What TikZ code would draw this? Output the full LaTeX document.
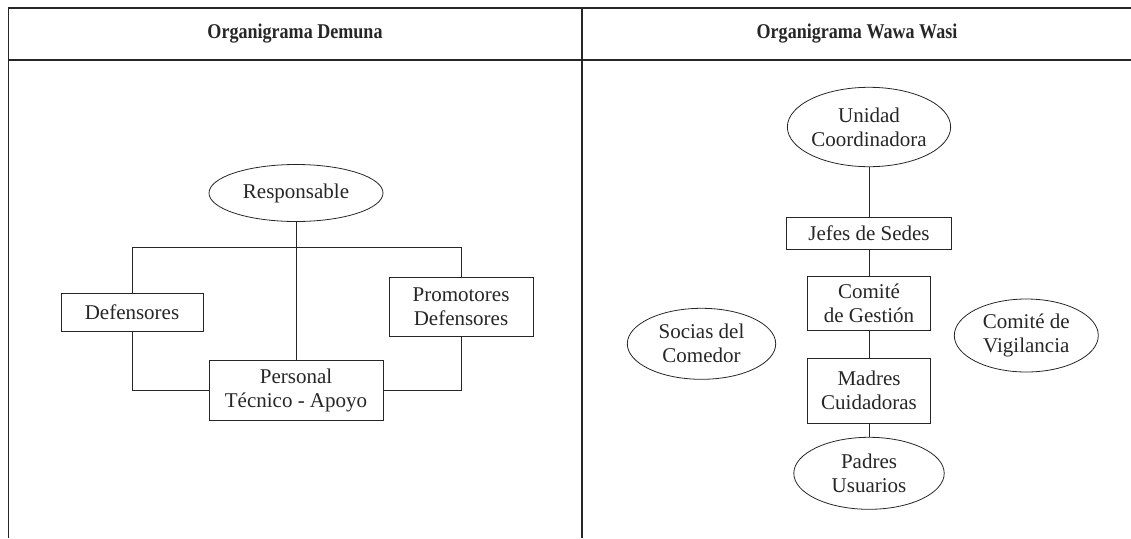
\documentclass[tikz,border=0pt]{standalone}
\usepackage{fontspec}
\setmainfont{Liberation Serif}
\usetikzlibrary{shapes.geometric}
\newcommand{\headtext}[1]{\scalebox{0.86}[1]{#1}}
\begin{document}
\begin{tikzpicture}[x=1pt,y=-1pt,
  frameline/.style={line width=1.3pt,draw=black!85},
  link/.style={line width=0.8pt,draw=black!85},
  txt/.style={font=\fontsize{21}{24}\selectfont,align=center,inner sep=0pt,text=black!85},
  boxnode/.style={txt,draw=black!85,line width=0.8pt,rectangle},
  ovalnode/.style={txt,draw=black!85,line width=0.8pt,ellipse},
  headtxt/.style={font=\fontsize{21}{24}\selectfont\bfseries,inner sep=0pt,text=black!85}
]
\useasboundingbox (0,0) rectangle (1131,538);
% frame
\draw[frameline] (8.5,538) -- (8.5,8) -- (1131,8);
\draw[frameline] (8.5,60) -- (1131,60);
\draw[frameline] (582,8) -- (582,538);
\node[headtxt] (h1) at (295,34) {\headtext{Organigrama Demuna}};
\node[headtxt] (h2) at (857,34) {\headtext{Organigrama Wawa Wasi}};
% left chart
\node[ovalnode,minimum width=174pt,minimum height=57pt] (resp) at (296,193) {Responsable};
\node[boxnode,minimum width=142pt,minimum height=37.7pt] (def) at (132,312.2) {Defensores};
\node[boxnode,minimum width=144pt,minimum height=58.7pt] (prom) at (461,306.7) {Promotores\\Defensores};
\node[boxnode,minimum width=174pt,minimum height=60pt] (pers) at (296,390.7) {Personal\\T\'ecnico - Apoyo};
\coordinate (bar) at (296,247.7);
\draw[link] (resp.south) -- (pers.north);
\draw[link] (def.north) -- (def.north |- bar) -- (prom.north |- bar) -- (prom.north);
\draw[link] (def.south) |- (pers.west);
\draw[link] (prom.south) |- (pers.east);
% right chart
\node[ovalnode,minimum width=155pt,minimum height=79.4pt] (uc) at (869,127) {Unidad\\Coordinadora};
\node[boxnode,minimum width=165.7pt,minimum height=31.7pt] (jefes) at (869,233.5) {Jefes de Sedes};
\node[boxnode,minimum width=123.7pt,minimum height=53.3pt] (cg) at (869,303.3) {Comit\'e\\de Gesti\'on};
\node[boxnode,minimum width=123.7pt,minimum height=65pt] (mc) at (869,390.8) {Madres\\Cuidadoras};
\node[ovalnode,minimum width=150.4pt,minimum height=72pt] (pu) at (869,473.3) {Padres\\Usuarios};
\node[ovalnode,minimum width=148.4pt,minimum height=71pt] (soc) at (701.5,343.8) {Socias del\\Comedor};
\node[ovalnode,minimum width=144pt,minimum height=73pt] (vig) at (1026.3,335.5) {Comit\'e de\\Vigilancia};
\draw[link] (uc.south) -- (jefes.north);
\draw[link] (jefes.south) -- (cg.north);
\draw[link] (cg.south) -- (mc.north);
\draw[link] (mc.south) -- (pu.north);
\end{tikzpicture}
\end{document}
